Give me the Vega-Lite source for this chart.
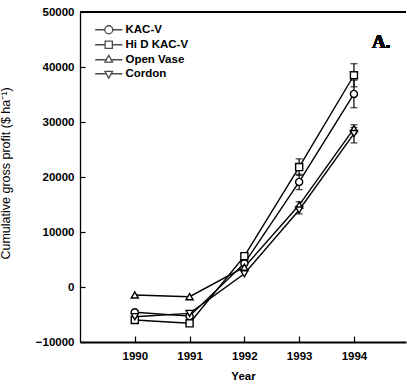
{
  "$schema": "https://vega.github.io/schema/vega-lite/v6.json",
  "width": 326,
  "height": 330,
  "autosize": {"type": "none"},
  "padding": {"left": 80, "top": 12, "right": 1, "bottom": 45},
  "background": "white",
  "config": {"view": {"stroke": null}, "font": "Liberation Sans"},
  "resolve": {"scale": {"shape": "independent"}, "legend": {"shape": "independent"}},
  "data": {
    "values": [
      {"series": "KAC-V", "year": 1990, "value": -4600},
      {"series": "KAC-V", "year": 1991, "value": -5300},
      {"series": "KAC-V", "year": 1992, "value": 4300},
      {"series": "KAC-V", "year": 1993, "value": 19100, "lo": 17700, "hi": 20500},
      {"series": "KAC-V", "year": 1994, "value": 35100, "lo": 32600, "hi": 37600},
      {"series": "Hi D KAC-V", "year": 1990, "value": -6000},
      {"series": "Hi D KAC-V", "year": 1991, "value": -6600},
      {"series": "Hi D KAC-V", "year": 1992, "value": 5600},
      {"series": "Hi D KAC-V", "year": 1993, "value": 21800, "lo": 20300, "hi": 23300},
      {"series": "Hi D KAC-V", "year": 1994, "value": 38500, "lo": 36400, "hi": 40600},
      {"series": "Open Vase", "year": 1990, "value": -1450},
      {"series": "Open Vase", "year": 1991, "value": -1760},
      {"series": "Open Vase", "year": 1992, "value": 3600},
      {"series": "Open Vase", "year": 1993, "value": 14900, "lo": 14300, "hi": 15500},
      {"series": "Open Vase", "year": 1994, "value": 28800, "lo": 27900, "hi": 29500},
      {"series": "Cordon", "year": 1990, "value": -5400},
      {"series": "Cordon", "year": 1991, "value": -4800},
      {"series": "Cordon", "year": 1992, "value": 2400},
      {"series": "Cordon", "year": 1993, "value": 14000, "lo": 13300, "hi": 14700},
      {"series": "Cordon", "year": 1994, "value": 27900, "lo": 26200, "hi": 29000}
    ]
  },
  "layer": [
    {
      "mark": {"type": "rule", "stroke": "black", "strokeWidth": 2},
      "encoding": {"y": {"datum": 50000, "type": "quantitative", "scale": {"domain": [-10000, 50000], "nice": false, "zero": false}}}
    },
    {
      "transform": [{"filter": "isValid(datum.lo)"}],
      "mark": {"type": "rule", "stroke": "black", "strokeWidth": 1.2},
      "encoding": {
        "x": {"field": "year", "type": "quantitative"},
        "y": {"field": "lo", "type": "quantitative"},
        "y2": {"field": "hi"}
      }
    },
    {
      "transform": [{"filter": "isValid(datum.lo)"}],
      "mark": {"type": "tick", "orient": "horizontal", "color": "black", "size": 7, "thickness": 1.3},
      "encoding": {
        "x": {"field": "year", "type": "quantitative"},
        "y": {"field": "lo", "type": "quantitative"}
      }
    },
    {
      "transform": [{"filter": "isValid(datum.hi)"}],
      "mark": {"type": "tick", "orient": "horizontal", "color": "black", "size": 7, "thickness": 1.3},
      "encoding": {
        "x": {"field": "year", "type": "quantitative"},
        "y": {"field": "hi", "type": "quantitative"}
      }
    },
    {
      "mark": {"type": "line", "stroke": "black", "strokeWidth": 1.4},
      "encoding": {
        "x": {
          "field": "year", "type": "quantitative",
          "scale": {"domain": [1989, 1994.95], "nice": false, "zero": false},
          "axis": {
            "values": [1990, 1991, 1992, 1993, 1994], "format": "d", "grid": false,
            "tickSize": -6, "tickColor": "black", "tickWidth": 1.2,
            "domainColor": "black", "domainWidth": 2,
            "labelFontSize": 11.5, "labelFontWeight": "bold", "labelColor": "black", "labelPadding": 14,
            "title": "Year", "titleFontSize": 11.5, "titleFontWeight": "bold", "titleColor": "black", "titlePadding": 9
          }
        },
        "y": {
          "field": "value", "type": "quantitative",
          "scale": {"domain": [-10000, 50000], "nice": false, "zero": false},
          "axis": {
            "values": [-10000, 0, 10000, 20000, 30000, 40000, 50000], "format": "d", "grid": false,
            "tickSize": -5, "tickColor": "black", "tickWidth": 1.2,
            "domainColor": "black", "domainWidth": 1.3,
            "labelFontSize": 11.5, "labelFontWeight": "bold", "labelColor": "black", "labelPadding": 11,
            "title": "Cumulative gross profit ($ ha⁻¹)", "titleFontSize": 12.5, "titleFontWeight": "normal", "titleColor": "black",
            "titleX": -68, "titleY": 161
          }
        },
        "detail": {"field": "series"}
      }
    },
    {
      "mark": {"type": "point", "filled": true, "fill": "white", "stroke": "black", "strokeWidth": 1.4, "size": 50, "opacity": 1},
      "encoding": {
        "x": {"field": "year", "type": "quantitative"},
        "y": {"field": "value", "type": "quantitative"},
        "shape": {
          "field": "series", "type": "nominal",
          "scale": {"domain": ["KAC-V", "Hi D KAC-V", "Open Vase", "Cordon"], "range": ["circle", "square", "triangle-up", "triangle-down"]},
          "legend": null
        }
      }
    },
    {
      "transform": [{"filter": "false"}],
      "mark": {"type": "point", "stroke": "black", "strokeWidth": 1.3},
      "encoding": {
        "x": {"field": "year", "type": "quantitative"},
        "y": {"field": "value", "type": "quantitative"},
        "shape": {
          "field": "series", "type": "nominal",
          "scale": {
            "domain": ["KAC-V", "Hi D KAC-V", "Open Vase", "Cordon"],
            "range": [
              "M-3.4,0L-1,0M1,0L3.4,0M1,0A1,1,0,1,1,-1,0A1,1,0,1,1,1,0Z",
              "M-3.4,0L-0.9,0M0.9,0L3.4,0M-0.9,-0.9L0.9,-0.9L0.9,0.9L-0.9,0.9Z",
              "M-3.4,0L-0.61,0M0.61,0L3.4,0M0,-1.1L0.95,0.6L-0.95,0.6Z",
              "M-3.4,0L-0.61,0M0.61,0L3.4,0M0,1.1L0.95,-0.6L-0.95,-0.6Z"
            ]
          },
          "legend": {
            "orient": "none", "legendX": 23, "legendY": 12, "title": null,
            "labelFontSize": 11.5, "labelFontWeight": "bold", "labelColor": "black", "labelOffset": 11,
            "symbolSize": 64, "symbolStrokeColor": "black", "symbolStrokeWidth": 1.3,
            "rowPadding": 1
          }
        }
      }
    },
    {
      "mark": {"type": "text", "text": "A.", "font": "Liberation Serif", "fontWeight": "bold", "fontSize": 19, "align": "left", "baseline": "alphabetic", "color": "black"},
      "encoding": {
        "x": {"datum": 1994.33, "type": "quantitative"},
        "y": {"datum": 43500, "type": "quantitative"}
      }
    }
  ]
}
